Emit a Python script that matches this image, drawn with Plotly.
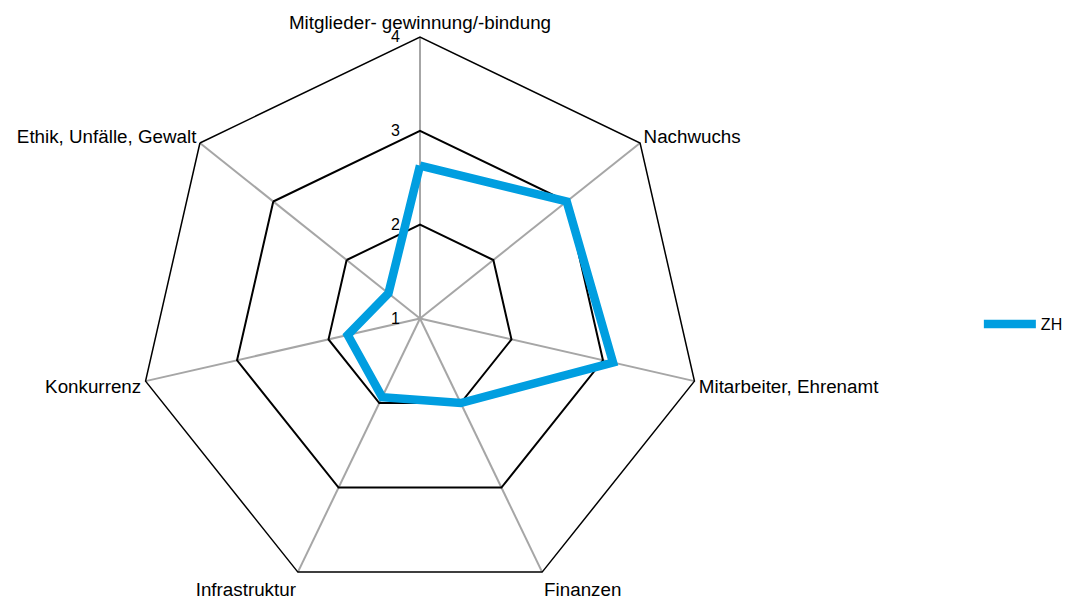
"""
雷达图渲染模块
"""

import plotly.graph_objects as go
from typing import List, Dict, Any, Tuple

# 图表固定像素尺寸
DEFAULT_SIZE_PX = (1076, 599)

# 各维度及其数值
CATEGORIES = [
    'Mitglieder- gewinnung/-bindung',
    'Nachwuchs',
    'Mitarbeiter, Ehrenamt',
    'Finanzen',
    'Infrastruktur',
    'Konkurrenz',
    'Ethik, Unfälle, Gewalt',
]
SERIES = [
    {'name': 'ZH', 'values': [2.63, 3.0, 3.11, 2.0, 1.93, 1.79, 1.43], 'color': '#009EE0'},
]


class RadarRenderer:
    """雷达图渲染器"""

    def __init__(self, size: Tuple[int, int] = DEFAULT_SIZE_PX):
        self.size = size
        self.fig = None

    def create_figure(self) -> go.Figure:
        """创建配置好的Figure"""
        fig = go.Figure()
        fig.update_layout(
            autosize=False,  # 使用固定尺寸
            width=self.size[0],
            height=self.size[1],
            margin=dict(l=0, r=0, t=29, b=7),
            paper_bgcolor='white',
            plot_bgcolor='white',
            font=dict(family='Arial, Liberation Sans, sans-serif', size=18.8, color='black'),
        )
        return fig

    def create_radar_trace(self, trace_data: Dict[str, Any]) -> go.Scatterpolar:
        """创建闭合的 scatterpolar trace"""
        r = list(trace_data['values']) + [trace_data['values'][0]]
        theta = list(CATEGORIES) + [CATEGORIES[0]]
        return go.Scatterpolar(
            r=r,
            theta=theta,
            name=trace_data['name'],
            mode='lines',
            line=dict(color=trace_data['color'], width=8.5),
        )

    def update_layout(self, fig: go.Figure):
        """更新极坐标与图例布局"""
        fig.update_layout(
            showlegend=True,
            legend=dict(
                orientation='v',
                yanchor='middle',
                y=0.49,
                xanchor='right',  # 右对齐，避免图例文字被裁剪
                x=0.985,
                bgcolor='rgba(255,255,255,0.0)',
                borderwidth=0,
                itemwidth=52,
                font=dict(size=16),
            ),
            polar=dict(
                domain=dict(x=[0.10, 0.6658], y=[0.0, 1.0]),
                gridshape='linear',  # 多边形网格
                bgcolor='white',
                radialaxis=dict(
                    range=[1, 4],
                    tickvals=[1, 2, 3, 4],
                    angle=90,
                    side='counterclockwise',
                    tickangle=90,
                    showline=False,
                    gridcolor='black',
                    gridwidth=1.5,
                    ticks='outside',
                    ticklen=14,
                    tickcolor='rgba(0,0,0,0)',  # 隐藏刻度线，仅用于推开刻度标签
                    tickfont=dict(size=16),
                ),
                angularaxis=dict(
                    direction='clockwise',
                    rotation=90,
                    showline=True,
                    linecolor='black',
                    linewidth=1.5,
                    gridcolor='#A6A6A6',
                    gridwidth=1.5,
                    ticks='',
                ),
            ),
        )

    def build(self, series: List[Dict]) -> go.Figure:
        """核心绘图逻辑"""
        fig = self.create_figure()
        for s in series:
            fig.add_trace(self.create_radar_trace(s))
        self.update_layout(fig)
        self.fig = fig
        return fig


renderer = RadarRenderer()
fig = renderer.build(SERIES)
fig.write_html("out.html")
